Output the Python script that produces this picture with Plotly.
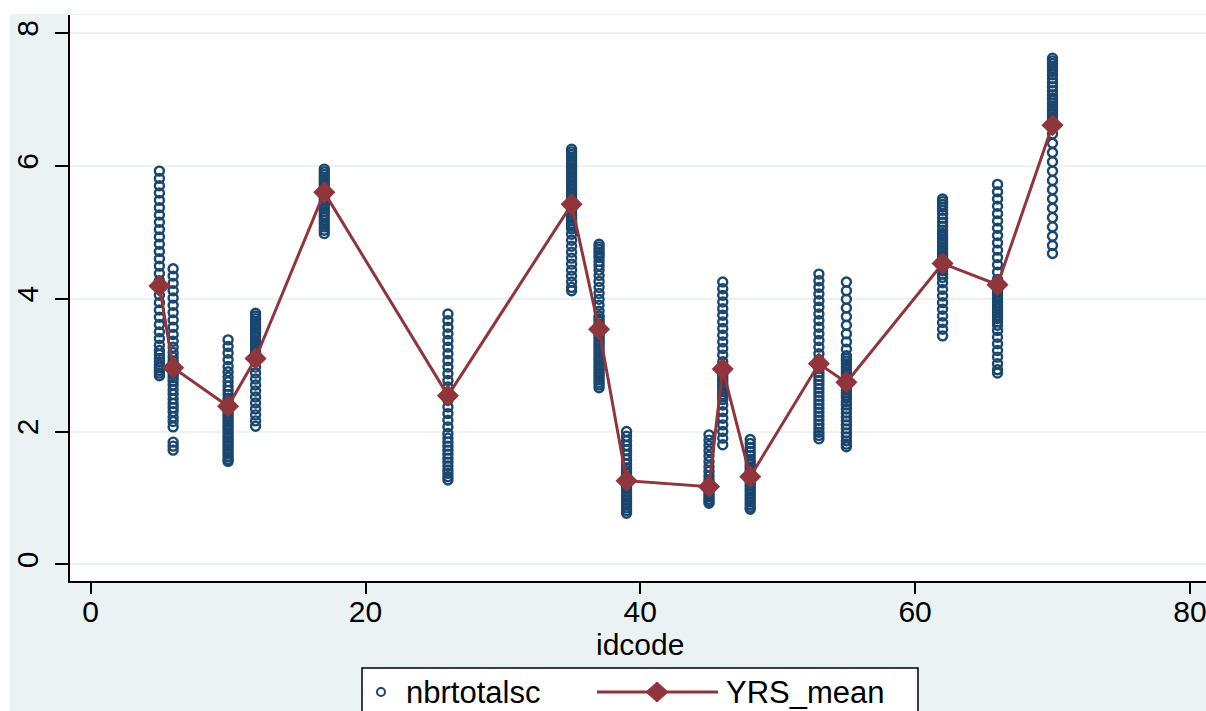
import plotly.graph_objects as go

# ---------------- data ----------------
idcodes = [5, 6, 10, 12, 17, 26, 35, 37, 39, 45, 46, 48, 53, 55, 62, 66, 70]
yrs_mean = [4.19, 2.96, 2.38, 3.10, 5.60, 2.54, 5.42, 3.54, 1.26, 1.17, 2.94, 1.32, 3.02, 2.74, 4.53, 4.21, 6.61]

nbr_5 = [5.92, 5.81, 5.70, 5.59, 5.48, 5.37, 5.26, 5.15, 5.04, 4.93, 4.82, 4.71, 4.60, 4.49, 4.38, 4.27, 4.16,
         4.05, 3.94, 3.83, 3.72, 3.61, 3.50, 3.40, 3.30, 3.22, 3.16, 3.10, 3.05, 3.00, 2.96, 2.92, 2.88, 2.84]
nbr_6 = [4.45, 4.34, 4.23, 4.12, 4.01, 3.90, 3.79, 3.68, 3.57, 3.46, 3.36, 3.27, 3.19, 3.12, 3.06, 3.01, 2.96,
         2.91, 2.86, 2.81, 2.76, 2.70, 2.63, 2.56, 2.49, 2.42, 2.36, 2.30, 2.22, 2.15, 2.07, 1.84, 1.78, 1.72]
nbr_10 = [3.38, 3.28, 3.18, 3.08, 2.98, 2.90, 2.82, 2.75, 2.68, 2.62, 2.56, 2.50, 2.46, 2.42, 2.38, 2.34, 2.30,
          2.26, 2.22, 2.18, 2.14, 2.10, 2.06, 2.02, 1.98, 1.94, 1.90, 1.86, 1.82, 1.78, 1.74, 1.70, 1.66, 1.62,
          1.58, 1.55]
nbr_12 = [3.78, 3.74, 3.70, 3.66, 3.62, 3.58, 3.54, 3.50, 3.46, 3.42, 3.38, 3.34, 3.30, 3.26, 3.22, 3.18, 3.14,
          3.06, 2.97, 2.88, 2.79, 2.70, 2.61, 2.52, 2.43, 2.34, 2.25, 2.16, 2.08]
nbr_17 = [5.95, 5.91, 5.87, 5.83, 5.79, 5.75, 5.71, 5.67, 5.63, 5.59, 5.55, 5.51, 5.47, 5.43, 5.39, 5.35, 5.31,
          5.27, 5.23, 5.18, 5.13, 5.08, 5.03, 4.98]
nbr_26 = [3.77, 3.67, 3.57, 3.47, 3.37, 3.27, 3.17, 3.07, 2.97, 2.87, 2.77, 2.67, 2.57, 2.47, 2.37, 2.27, 2.17,
          2.07, 1.97, 1.90, 1.84, 1.78, 1.72, 1.66, 1.60, 1.54, 1.48, 1.42, 1.37, 1.32, 1.27]
nbr_35 = [6.25, 6.21, 6.17, 6.13, 6.09, 6.05, 6.01, 5.97, 5.93, 5.89, 5.85, 5.81, 5.77, 5.73, 5.69, 5.65, 5.61,
          5.57, 5.53, 5.49, 5.45, 5.41, 5.37, 5.33, 5.29, 5.25, 5.21, 5.17, 5.13, 5.09, 5.05, 4.97, 4.88, 4.79,
          4.70, 4.61, 4.52, 4.43, 4.34, 4.25, 4.17, 4.12]
nbr_37 = [4.82, 4.78, 4.74, 4.70, 4.66, 4.62, 4.56, 4.50, 4.43, 4.35, 4.26, 4.17, 4.08, 3.99, 3.90, 3.81, 3.74,
          3.70, 3.66, 3.62, 3.58, 3.54, 3.50, 3.46, 3.42, 3.38, 3.34, 3.30, 3.26, 3.22, 3.18, 3.14, 3.10, 3.06,
          3.02, 2.98, 2.94, 2.90, 2.86, 2.82, 2.78, 2.74, 2.70, 2.66]
nbr_39 = [2.00, 1.93, 1.86, 1.79, 1.72, 1.65, 1.58, 1.51, 1.45, 1.41, 1.37, 1.33, 1.29, 1.25, 1.21, 1.17, 1.13,
          1.09, 1.05, 1.01, 0.97, 0.93, 0.89, 0.85, 0.81, 0.77]
nbr_45 = [1.95, 1.87, 1.79, 1.71, 1.63, 1.55, 1.47, 1.40, 1.33, 1.27, 1.22, 1.18, 1.14, 1.10, 1.06, 1.02, 0.98,
          0.95, 0.92]
nbr_46 = [4.25, 4.15, 4.05, 3.95, 3.85, 3.75, 3.65, 3.55, 3.45, 3.35, 3.25, 3.15, 3.05, 2.97, 2.92, 2.88, 2.84,
          2.80, 2.76, 2.72, 2.68, 2.64, 2.60, 2.56, 2.52, 2.48, 2.40, 2.30, 2.20, 2.10, 2.00, 1.90, 1.80]
nbr_48 = [1.88, 1.82, 1.76, 1.70, 1.64, 1.58, 1.54, 1.50, 1.46, 1.42, 1.38, 1.34, 1.30, 1.26, 1.22, 1.18, 1.14,
          1.10, 1.06, 1.02, 0.98, 0.94, 0.90, 0.86, 0.83]
nbr_53 = [4.37, 4.27, 4.17, 4.07, 3.97, 3.87, 3.77, 3.67, 3.57, 3.47, 3.37, 3.27, 3.17, 3.08, 3.01, 2.95, 2.89,
          2.83, 2.77, 2.71, 2.65, 2.59, 2.53, 2.47, 2.41, 2.35, 2.29, 2.23, 2.17, 2.11, 2.05, 1.99, 1.94, 1.89]
nbr_55 = [4.25, 4.12, 3.99, 3.86, 3.73, 3.60, 3.47, 3.35, 3.24, 3.14, 3.10, 3.06, 3.02, 2.98, 2.94, 2.90, 2.86,
          2.82, 2.78, 2.74, 2.70, 2.66, 2.62, 2.58, 2.54, 2.50, 2.45, 2.40, 2.34, 2.28, 2.22, 2.16, 2.10, 2.04,
          1.98, 1.92, 1.86, 1.81, 1.77]
nbr_62 = [5.50, 5.46, 5.42, 5.38, 5.33, 5.27, 5.21, 5.15, 5.09, 5.03, 4.98, 4.94, 4.90, 4.86, 4.82, 4.78, 4.74,
          4.70, 4.66, 4.62, 4.57, 4.52, 4.47, 4.42, 4.37, 4.32, 4.24, 4.14, 4.04, 3.94, 3.84, 3.74, 3.64, 3.54,
          3.44]
nbr_66 = [5.72, 5.61, 5.50, 5.39, 5.28, 5.17, 5.06, 4.95, 4.84, 4.73, 4.62, 4.51, 4.40, 4.29, 4.20, 4.15, 4.10,
          4.05, 4.00, 3.95, 3.90, 3.85, 3.80, 3.75, 3.70, 3.65, 3.60, 3.52, 3.42, 3.32, 3.22, 3.12, 3.02, 2.93,
          2.88]
nbr_70 = [7.62, 7.58, 7.54, 7.50, 7.46, 7.42, 7.37, 7.31, 7.25, 7.19, 7.13, 7.07, 7.02, 6.98, 6.94, 6.90, 6.86,
          6.82, 6.78, 6.74, 6.70, 6.66, 6.62, 6.48, 6.34, 6.20, 6.06, 5.92, 5.78, 5.64, 5.50, 5.36, 5.22, 5.08,
          4.94, 4.80, 4.68]

groups = [nbr_5, nbr_6, nbr_10, nbr_12, nbr_17, nbr_26, nbr_35, nbr_37, nbr_39, nbr_45, nbr_46, nbr_48,
          nbr_53, nbr_55, nbr_62, nbr_66, nbr_70]

x_ticks = [0, 20, 40, 60, 80]
y_ticks = [0, 2, 4, 6, 8]

# ---------------- style ----------------
NAVY = "#1A476F"
MAROON = "#90353B"
BG = "#EAF2F3"
FONT = "Liberation Sans, Arial, sans-serif"
FS = 31
FS_AX = 30

W, H = 1206, 711
ML, MR, MT, MB = 70, 0, 15, 130
PW, PH = W - ML - MR, H - MT - MB


def px(xp):
    return (xp - ML) / PW


def py(yp):
    return (H - MB - yp) / PH


scatter_x = []
scatter_y = []
for code, vals in zip(idcodes, groups):
    scatter_x += [code] * len(vals)
    scatter_y += vals

fig = go.Figure()
fig.add_trace(go.Scatter(
    x=scatter_x, y=scatter_y, mode="markers", name="nbrtotalsc",
    marker=dict(symbol="circle-open", size=9, color=NAVY, line=dict(width=2.4, color=NAVY)),
    showlegend=False,
))
fig.add_trace(go.Scatter(
    x=idcodes, y=yrs_mean, mode="lines+markers", name="YRS_mean",
    line=dict(color=MAROON, width=3),
    marker=dict(symbol="diamond", size=17, color=MAROON),
    showlegend=False,
))

shapes = [
    # graph region background with thin white border
    dict(type="rect", xref="paper", yref="paper", x0=px(10), x1=px(W + 5), y0=py(H + 5), y1=py(14),
         fillcolor=BG, line=dict(width=0), layer="below"),
    dict(type="rect", xref="paper", yref="paper", x0=0, x1=1, y0=0, y1=1,
         fillcolor="white", line=dict(width=0), layer="below"),
    # legend box
    dict(type="rect", xref="paper", yref="paper", x0=px(362), x1=px(918), y0=py(H + 10), y1=py(668),
         fillcolor="white", line=dict(color="black", width=1.5)),
    dict(type="circle", xref="paper", yref="paper", x0=px(377), x1=px(385), y0=py(696), y1=py(688),
         fillcolor="white", line=dict(color=NAVY, width=2)),
    dict(type="line", xref="paper", yref="paper", x0=px(597), x1=px(718), y0=py(692), y1=py(692),
         line=dict(color=MAROON, width=3)),
    dict(type="path", xref="paper", yref="paper",
         path="M {a},{b} L {c},{d} L {e},{b} L {c},{f} Z".format(
             a=px(646), b=py(692), c=px(657), d=py(682), e=px(668), f=py(702)),
         fillcolor=MAROON, line=dict(color=MAROON, width=1)),
]

annotations = [
    dict(text="nbrtotalsc", xref="paper", yref="paper", x=px(404), y=py(692), xanchor="left",
         yanchor="middle", showarrow=False, font=dict(family=FONT, size=FS, color="black")),
    dict(text="YRS_mean", xref="paper", yref="paper", x=px(724), y=py(692), xanchor="left",
         yanchor="middle", showarrow=False, font=dict(family=FONT, size=FS, color="black")),
    dict(text="idcode", xref="paper", yref="paper", x=px(640), y=py(644), xanchor="center",
         yanchor="middle", showarrow=False, font=dict(family=FONT, size=FS_AX, color="black")),
]

fig.update_layout(
    width=W, height=H,
    margin=dict(l=ML, r=MR, t=MT, b=MB, pad=0),
    paper_bgcolor="white",
    plot_bgcolor="white",
    font=dict(family=FONT, size=FS, color="black"),
    shapes=shapes,
    annotations=annotations,
    showlegend=False,
)

fig.update_xaxes(
    range=[(ML - 90.7) / 13.74, (W - 90.7) / 13.74],
    tickvals=x_ticks, ticktext=[str(v) for v in x_ticks],
    ticks="outside", ticklen=11, tickwidth=1.5, tickcolor="black",
    showline=True, linecolor="black", linewidth=1.5,
    showgrid=False, zeroline=False,
    tickfont=dict(family=FONT, size=FS_AX, color="black"),
    ticklabelstandoff=-8,
    ticklabeloverflow="allow",
)
fig.update_yaxes(
    range=[-0.25, 8.27],
    tickvals=y_ticks, ticktext=[str(v) for v in y_ticks],
    tickangle=-90,
    ticks="outside", ticklen=13, tickwidth=1.5, tickcolor="black",
    showline=True, linecolor="black", linewidth=1.5,
    showgrid=True, gridcolor=BG, gridwidth=2, zeroline=False,
    tickfont=dict(family=FONT, size=FS_AX, color="black"),
    ticklabelstandoff=5,
    ticklabeloverflow="allow",
)

fig.write_html(
    "out.html",
    config={"displayModeBar": False},
    post_script="document.body.style.margin='0';document.body.style.overflow='hidden';"
                "document.documentElement.style.overflow='hidden';",
)
